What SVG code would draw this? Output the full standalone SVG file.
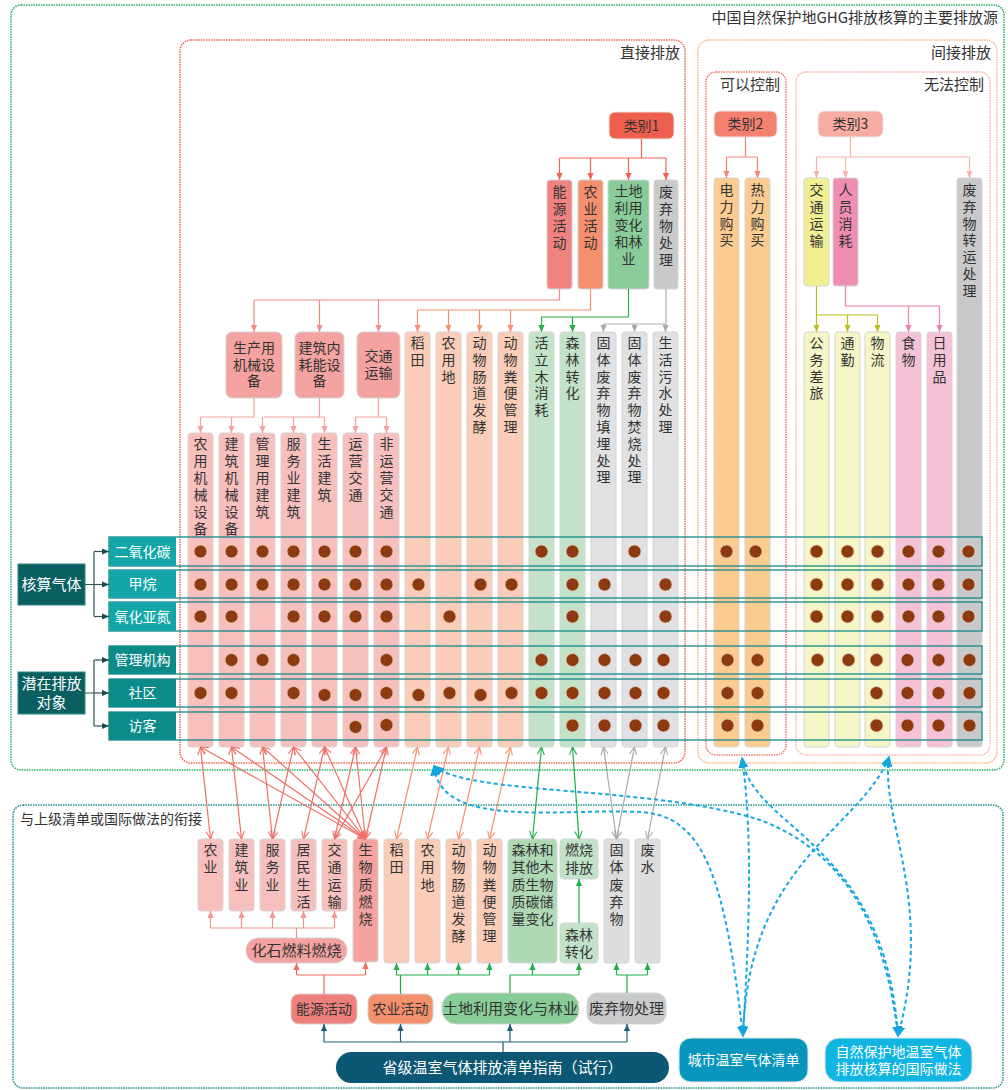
<svg xmlns="http://www.w3.org/2000/svg" width="1008" height="1090" viewBox="0 0 1008 1090">
<style>
.t{font-family:"Noto Sans CJK SC","Noto Sans",sans-serif;font-size:14px;fill:#333;text-anchor:middle}
.c{font-family:"Noto Sans CJK SC","Noto Sans",sans-serif;font-size:14px;fill:#333;writing-mode:vertical-rl;text-anchor:start}
.w{fill:#fff}
.h{font-size:15px;text-anchor:end}
.col{stroke:#d4d4d4;stroke-width:1}
.dot{fill:#8e3a10;stroke:#e6c6b6;stroke-width:0.8}
.fr{fill:none;stroke-width:1.5;stroke-dasharray:1.5 1}
.band{fill:none;stroke:#16878a;stroke-width:1.3}
.ln{fill:none;stroke-width:1.2}
.bl{fill:none;stroke:#14a8df;stroke-width:2;stroke-dasharray:4 3}
</style>
<defs>
<marker id="mR1" viewBox="0 0 8 8" refX="8" refY="4" markerWidth="7" markerHeight="7" markerUnits="userSpaceOnUse" orient="auto"><path d="M0,0.5L8,4L0,7.5z" fill="#ee6352"/></marker>
<marker id="mE" viewBox="0 0 8 8" refX="8" refY="4" markerWidth="7" markerHeight="7" markerUnits="userSpaceOnUse" orient="auto"><path d="M0,0.5L8,4L0,7.5z" fill="#f28a86"/></marker>
<marker id="mA" viewBox="0 0 8 8" refX="8" refY="4" markerWidth="7" markerHeight="7" markerUnits="userSpaceOnUse" orient="auto"><path d="M0,0.5L8,4L0,7.5z" fill="#f5906e"/></marker>
<marker id="mG" viewBox="0 0 8 8" refX="8" refY="4" markerWidth="7" markerHeight="7" markerUnits="userSpaceOnUse" orient="auto"><path d="M0,0.5L8,4L0,7.5z" fill="#1fae4a"/></marker>
<marker id="mK" viewBox="0 0 8 8" refX="8" refY="4" markerWidth="7" markerHeight="7" markerUnits="userSpaceOnUse" orient="auto"><path d="M0,0.5L8,4L0,7.5z" fill="#a9a9ad"/></marker>
<marker id="mP" viewBox="0 0 8 8" refX="8" refY="4" markerWidth="7" markerHeight="7" markerUnits="userSpaceOnUse" orient="auto"><path d="M0,0.5L8,4L0,7.5z" fill="#f4a09c"/></marker>
<marker id="mC2" viewBox="0 0 8 8" refX="8" refY="4" markerWidth="7" markerHeight="7" markerUnits="userSpaceOnUse" orient="auto"><path d="M0,0.5L8,4L0,7.5z" fill="#f4847a"/></marker>
<marker id="mC3" viewBox="0 0 8 8" refX="8" refY="4" markerWidth="7" markerHeight="7" markerUnits="userSpaceOnUse" orient="auto"><path d="M0,0.5L8,4L0,7.5z" fill="#f8b4aa"/></marker>
<marker id="mY" viewBox="0 0 8 8" refX="8" refY="4" markerWidth="7" markerHeight="7" markerUnits="userSpaceOnUse" orient="auto"><path d="M0,0.5L8,4L0,7.5z" fill="#bdbd1a"/></marker>
<marker id="mPk" viewBox="0 0 8 8" refX="8" refY="4" markerWidth="7" markerHeight="7" markerUnits="userSpaceOnUse" orient="auto"><path d="M0,0.5L8,4L0,7.5z" fill="#f07cb0"/></marker>
<marker id="mT" viewBox="0 0 8 8" refX="8" refY="4" markerWidth="7" markerHeight="7" markerUnits="userSpaceOnUse" orient="auto"><path d="M0,0.5L8,4L0,7.5z" fill="#1e4a4c"/></marker>
<marker id="mD" viewBox="0 0 8 8" refX="8" refY="4" markerWidth="7" markerHeight="7" markerUnits="userSpaceOnUse" orient="auto"><path d="M0,0.5L8,4L0,7.5z" fill="#1f5e78"/></marker>
<marker id="mF" viewBox="0 0 8 8" refX="8" refY="4" markerWidth="7" markerHeight="7" markerUnits="userSpaceOnUse" orient="auto"><path d="M0,0.5L8,4L0,7.5z" fill="#f29590"/></marker>
<marker id="mEn" viewBox="0 0 8 8" refX="8" refY="4" markerWidth="7" markerHeight="7" markerUnits="userSpaceOnUse" orient="auto"><path d="M0,0.5L8,4L0,7.5z" fill="#f06a5a"/></marker>
<marker id="mB" viewBox="0 0 8 8" refX="7" refY="4" markerWidth="11" markerHeight="11" markerUnits="userSpaceOnUse" orient="auto-start-reverse"><path d="M0,0.5L8,4L0,7.5z" fill="#12a6dc"/></marker>
<marker id="oR" viewBox="0 0 10 10" refX="9.5" refY="5" markerWidth="9" markerHeight="9" markerUnits="userSpaceOnUse" orient="auto-start-reverse"><path d="M1,1L9.5,5L1,9" fill="none" stroke="#f07068" stroke-width="1.2"/></marker>
<marker id="oA" viewBox="0 0 10 10" refX="9.5" refY="5" markerWidth="9" markerHeight="9" markerUnits="userSpaceOnUse" orient="auto-start-reverse"><path d="M1,1L9.5,5L1,9" fill="none" stroke="#f5906e" stroke-width="1.2"/></marker>
<marker id="oG" viewBox="0 0 10 10" refX="9.5" refY="5" markerWidth="9" markerHeight="9" markerUnits="userSpaceOnUse" orient="auto-start-reverse"><path d="M1,1L9.5,5L1,9" fill="none" stroke="#1fae4a" stroke-width="1.2"/></marker>
<marker id="oK" viewBox="0 0 10 10" refX="9.5" refY="5" markerWidth="9" markerHeight="9" markerUnits="userSpaceOnUse" orient="auto-start-reverse"><path d="M1,1L9.5,5L1,9" fill="none" stroke="#a9a9ad" stroke-width="1.2"/></marker>
</defs>
<rect width="1008" height="1090" fill="#fff"/>

<g id="frames">
<rect x="11" y="5" width="993" height="765" rx="10" class="fr" stroke="#22b060"/>
<rect x="180" y="40" width="505" height="723" rx="11" class="fr" stroke="#f06656"/>
<rect x="698" y="40" width="299" height="723" rx="11" class="fr" stroke="#f8b48a"/>
<rect x="706" y="72" width="80" height="683" rx="10" class="fr" stroke="#f07a6c"/>
<rect x="796" y="72" width="194" height="683" rx="10" class="fr" stroke="#f8b4aa"/>
<rect x="13" y="805" width="990" height="283" rx="10" class="fr" stroke="#1a9090"/>
<text class="t h" x="998" y="23">中国自然保护地GHG排放核算的主要排放源</text>
<text class="t h" x="680" y="58">直接排放</text>
<text class="t h" x="991" y="58">间接排放</text>
<text class="t h" x="780" y="90">可以控制</text>
<text class="t h" x="984" y="90">无法控制</text>
<text class="t" x="20" y="824" style="text-anchor:start">与上级清单或国际做法的衔接</text>
</g>

<g id="cat1"><rect x="609" y="112" width="65" height="27" rx="6" fill="#ee5f4d" stroke="#e8e8e8"/><text class="t" x="641.5" y="130.5">类别1</text></g>
<g id="cat2"><rect x="714" y="111" width="63" height="26" rx="6" fill="#f48070" stroke="#e8e8e8"/><text class="t" x="745.5" y="129">类别2</text></g>
<g id="cat3"><rect x="818" y="111" width="65" height="26" rx="6" fill="#f8ada2" stroke="#e8e8e8"/><text class="t" x="850.5" y="129">类别3</text></g>

<g id="n-energy"><rect x="547" y="180" width="25" height="109" rx="3" class="col" fill="#f08380"/><text class="c" x="559.5" y="185">能</text><text class="c" x="559.5" y="202">源</text><text class="c" x="559.5" y="219">活</text><text class="c" x="559.5" y="236">动</text></g>
<g id="n-agri"><rect x="578" y="180" width="25" height="109" rx="3" class="col" fill="#f5906e"/><text class="c" x="590.5" y="185">农</text><text class="c" x="590.5" y="202">业</text><text class="c" x="590.5" y="219">活</text><text class="c" x="590.5" y="236">动</text></g>
<g id="n-lulucf"><rect x="608" y="180" width="41" height="109" rx="3" class="col" fill="#89cc99"/><text class="t" x="628.5" y="196"><tspan x="628.5">土地</tspan><tspan x="628.5" dy="17">利用</tspan><tspan x="628.5" dy="17">变化</tspan><tspan x="628.5" dy="17">和林</tspan><tspan x="628.5" dy="17">业</tspan></text></g>
<g id="n-waste"><rect x="654" y="180" width="24" height="109" rx="3" class="col" fill="#c9cacc"/><text class="c" x="666" y="185">废</text><text class="c" x="666" y="202">弃</text><text class="c" x="666" y="219">物</text><text class="c" x="666" y="236">处</text><text class="c" x="666" y="253">理</text></g>
<g id="n-trans3"><rect x="804" y="178" width="25" height="108" rx="3" class="col" fill="#f1ef92"/><text class="c" x="816.5" y="183">交</text><text class="c" x="816.5" y="200">通</text><text class="c" x="816.5" y="217">运</text><text class="c" x="816.5" y="234">输</text></g>
<g id="n-consume"><rect x="833" y="178" width="25" height="108" rx="3" class="col" fill="#f08db2"/><text class="c" x="845.5" y="183">人</text><text class="c" x="845.5" y="200">员</text><text class="c" x="845.5" y="217">消</text><text class="c" x="845.5" y="234">耗</text></g>

<g id="n-machine"><rect x="226" y="332" width="56" height="66" rx="6" class="col" fill="#f5a3a0"/><text class="t" x="254" y="353"><tspan x="254">生产用</tspan><tspan x="254" dy="16.5">机械设</tspan><tspan x="254" dy="16.5">备</tspan></text></g>
<g id="n-building"><rect x="295" y="332" width="49" height="66" rx="6" class="col" fill="#f5a3a0"/><text class="t" x="319.5" y="353"><tspan x="319.5">建筑内</tspan><tspan x="319.5" dy="16.5">耗能设</tspan><tspan x="319.5" dy="16.5">备</tspan></text></g>
<g id="n-transport"><rect x="357" y="332" width="43" height="66" rx="6" class="col" fill="#f5a3a0"/><text class="t" x="378.5" y="361"><tspan x="378.5">交通</tspan><tspan x="378.5" dy="17">运输</tspan></text></g>

<g id="col0"><rect x="188" y="433" width="25" height="314" rx="3" class="col" fill="#f8c0bd"/><text class="c" x="200.5" y="437">农</text><text class="c" x="200.5" y="454">用</text><text class="c" x="200.5" y="471">机</text><text class="c" x="200.5" y="488">械</text><text class="c" x="200.5" y="505">设</text><text class="c" x="200.5" y="522">备</text></g>
<g id="col1"><rect x="219" y="433" width="25" height="314" rx="3" class="col" fill="#f8c0bd"/><text class="c" x="231.5" y="437">建</text><text class="c" x="231.5" y="454">筑</text><text class="c" x="231.5" y="471">机</text><text class="c" x="231.5" y="488">械</text><text class="c" x="231.5" y="505">设</text><text class="c" x="231.5" y="522">备</text></g>
<g id="col2"><rect x="250" y="433" width="25" height="314" rx="3" class="col" fill="#f8c0bd"/><text class="c" x="262.5" y="437">管</text><text class="c" x="262.5" y="454">理</text><text class="c" x="262.5" y="471">用</text><text class="c" x="262.5" y="488">建</text><text class="c" x="262.5" y="505">筑</text></g>
<g id="col3"><rect x="281" y="433" width="25" height="314" rx="3" class="col" fill="#f8c0bd"/><text class="c" x="293.5" y="437">服</text><text class="c" x="293.5" y="454">务</text><text class="c" x="293.5" y="471">业</text><text class="c" x="293.5" y="488">建</text><text class="c" x="293.5" y="505">筑</text></g>
<g id="col4"><rect x="312" y="433" width="25" height="314" rx="3" class="col" fill="#f8c0bd"/><text class="c" x="324.5" y="437">生</text><text class="c" x="324.5" y="454">活</text><text class="c" x="324.5" y="471">建</text><text class="c" x="324.5" y="488">筑</text></g>
<g id="col5"><rect x="343" y="433" width="25" height="314" rx="3" class="col" fill="#f8c0bd"/><text class="c" x="355.5" y="437">运</text><text class="c" x="355.5" y="454">营</text><text class="c" x="355.5" y="471">交</text><text class="c" x="355.5" y="488">通</text></g>
<g id="col6"><rect x="374" y="433" width="25" height="314" rx="3" class="col" fill="#f8c0bd"/><text class="c" x="386.5" y="437">非</text><text class="c" x="386.5" y="454">运</text><text class="c" x="386.5" y="471">营</text><text class="c" x="386.5" y="488">交</text><text class="c" x="386.5" y="505">通</text></g>
<g id="col7"><rect x="405" y="332" width="25" height="415" rx="3" class="col" fill="#fbcdb9"/><text class="c" x="417.5" y="336">稻</text><text class="c" x="417.5" y="353">田</text></g>
<g id="col8"><rect x="436" y="332" width="25" height="415" rx="3" class="col" fill="#fbcdb9"/><text class="c" x="448.5" y="336">农</text><text class="c" x="448.5" y="353">用</text><text class="c" x="448.5" y="370">地</text></g>
<g id="col9"><rect x="467" y="332" width="25" height="415" rx="3" class="col" fill="#fbcdb9"/><text class="c" x="479.5" y="336">动</text><text class="c" x="479.5" y="353">物</text><text class="c" x="479.5" y="370">肠</text><text class="c" x="479.5" y="386">道</text><text class="c" x="479.5" y="403">发</text><text class="c" x="479.5" y="420">酵</text></g>
<g id="col10"><rect x="498" y="332" width="25" height="415" rx="3" class="col" fill="#fbcdb9"/><text class="c" x="510.5" y="336">动</text><text class="c" x="510.5" y="353">物</text><text class="c" x="510.5" y="370">粪</text><text class="c" x="510.5" y="386">便</text><text class="c" x="510.5" y="403">管</text><text class="c" x="510.5" y="420">理</text></g>
<g id="col11"><rect x="529" y="332" width="25" height="415" rx="3" class="col" fill="#c3e3c8"/><text class="c" x="541.5" y="336">活</text><text class="c" x="541.5" y="353">立</text><text class="c" x="541.5" y="370">木</text><text class="c" x="541.5" y="386">消</text><text class="c" x="541.5" y="403">耗</text></g>
<g id="col12"><rect x="560" y="332" width="25" height="415" rx="3" class="col" fill="#c3e3c8"/><text class="c" x="572.5" y="336">森</text><text class="c" x="572.5" y="353">林</text><text class="c" x="572.5" y="370">转</text><text class="c" x="572.5" y="386">化</text></g>
<g id="col13"><rect x="591" y="332" width="25" height="415" rx="3" class="col" fill="#e0e1e3"/><text class="c" x="603.5" y="336">固</text><text class="c" x="603.5" y="353">体</text><text class="c" x="603.5" y="370">废</text><text class="c" x="603.5" y="386">弃</text><text class="c" x="603.5" y="403">物</text><text class="c" x="603.5" y="420">填</text><text class="c" x="603.5" y="437">埋</text><text class="c" x="603.5" y="454">处</text><text class="c" x="603.5" y="470">理</text></g>
<g id="col14"><rect x="622" y="332" width="25" height="415" rx="3" class="col" fill="#e0e1e3"/><text class="c" x="634.5" y="336">固</text><text class="c" x="634.5" y="353">体</text><text class="c" x="634.5" y="370">废</text><text class="c" x="634.5" y="386">弃</text><text class="c" x="634.5" y="403">物</text><text class="c" x="634.5" y="420">焚</text><text class="c" x="634.5" y="437">烧</text><text class="c" x="634.5" y="454">处</text><text class="c" x="634.5" y="470">理</text></g>
<g id="col15"><rect x="653" y="332" width="25" height="415" rx="3" class="col" fill="#e0e1e3"/><text class="c" x="665.5" y="336">生</text><text class="c" x="665.5" y="353">活</text><text class="c" x="665.5" y="370">污</text><text class="c" x="665.5" y="386">水</text><text class="c" x="665.5" y="403">处</text><text class="c" x="665.5" y="420">理</text></g>
<g id="col16"><rect x="714" y="178" width="25" height="569" rx="3" class="col" fill="#fbcb90"/><text class="c" x="726.5" y="183">电</text><text class="c" x="726.5" y="200">力</text><text class="c" x="726.5" y="217">购</text><text class="c" x="726.5" y="233">买</text></g>
<g id="col17"><rect x="745" y="178" width="25" height="569" rx="3" class="col" fill="#fbcb90"/><text class="c" x="757.5" y="183">热</text><text class="c" x="757.5" y="200">力</text><text class="c" x="757.5" y="217">购</text><text class="c" x="757.5" y="233">买</text></g>
<g id="col18"><rect x="804" y="332" width="25" height="415" rx="3" class="col" fill="#f6f5c5"/><text class="c" x="816.5" y="336">公</text><text class="c" x="816.5" y="353">务</text><text class="c" x="816.5" y="370">差</text><text class="c" x="816.5" y="386">旅</text></g>
<g id="col19"><rect x="835" y="332" width="25" height="415" rx="3" class="col" fill="#f6f5c5"/><text class="c" x="847.5" y="336">通</text><text class="c" x="847.5" y="353">勤</text></g>
<g id="col20"><rect x="865" y="332" width="25" height="415" rx="3" class="col" fill="#f6f5c5"/><text class="c" x="877.5" y="336">物</text><text class="c" x="877.5" y="353">流</text></g>
<g id="col21"><rect x="896" y="332" width="25" height="415" rx="3" class="col" fill="#f6c2d8"/><text class="c" x="908.5" y="336">食</text><text class="c" x="908.5" y="353">物</text></g>
<g id="col22"><rect x="927" y="332" width="25" height="415" rx="3" class="col" fill="#f6c2d8"/><text class="c" x="939.5" y="336">日</text><text class="c" x="939.5" y="353">用</text><text class="c" x="939.5" y="370">品</text></g>
<g id="col23"><rect x="957" y="178" width="25" height="569" rx="3" class="col" fill="#c8c9cb"/><text class="c" x="969.5" y="183">废</text><text class="c" x="969.5" y="200">弃</text><text class="c" x="969.5" y="217">物</text><text class="c" x="969.5" y="233">转</text><text class="c" x="969.5" y="250">运</text><text class="c" x="969.5" y="267">处</text><text class="c" x="969.5" y="284">理</text></g>

<g id="bands">
<rect x="109" y="537" width="873" height="29" class="band"/>
<rect x="109" y="570" width="873" height="28" class="band"/>
<rect x="109" y="602" width="873" height="29" class="band"/>
<rect x="109" y="646" width="873" height="28" class="band"/>
<rect x="109" y="679" width="873" height="28" class="band"/>
<rect x="109" y="712" width="873" height="28" class="band"/>
</g>

<g id="dots" class="dot">
<circle cx="200.5" cy="551.5" r="6.5"/><circle cx="231.5" cy="551.5" r="6.5"/><circle cx="262.5" cy="551.5" r="6.5"/><circle cx="293.5" cy="551.5" r="6.5"/><circle cx="324.5" cy="551.5" r="6.5"/><circle cx="355.5" cy="551.5" r="6.5"/><circle cx="386.5" cy="551.5" r="6.5"/><circle cx="541.5" cy="551.5" r="6.5"/><circle cx="572.5" cy="551.5" r="6.5"/><circle cx="634.5" cy="551.5" r="6.5"/><circle cx="726.5" cy="551.5" r="6.5"/><circle cx="755.5" cy="551.5" r="6.5"/><circle cx="816.5" cy="551.5" r="6.5"/><circle cx="847.5" cy="551.5" r="6.5"/><circle cx="877.5" cy="551.5" r="6.5"/><circle cx="908.5" cy="551.5" r="6.5"/><circle cx="938.5" cy="551.5" r="6.5"/><circle cx="968.5" cy="551.5" r="6.5"/>
<circle cx="200.5" cy="584.5" r="6.5"/><circle cx="231.5" cy="584.5" r="6.5"/><circle cx="262.5" cy="584.5" r="6.5"/><circle cx="293.5" cy="584.5" r="6.5"/><circle cx="324.5" cy="584.5" r="6.5"/><circle cx="355.5" cy="584.5" r="6.5"/><circle cx="386.5" cy="584.5" r="6.5"/><circle cx="418.5" cy="584.5" r="6.5"/><circle cx="480.5" cy="584.5" r="6.5"/><circle cx="511.5" cy="584.5" r="6.5"/><circle cx="572.5" cy="584.5" r="6.5"/><circle cx="604.5" cy="584.5" r="6.5"/><circle cx="665.5" cy="584.5" r="6.5"/><circle cx="816.5" cy="584.5" r="6.5"/><circle cx="847.5" cy="584.5" r="6.5"/><circle cx="877.5" cy="584.5" r="6.5"/><circle cx="908.5" cy="584.5" r="6.5"/><circle cx="938.5" cy="584.5" r="6.5"/><circle cx="968.5" cy="584.5" r="6.5"/>
<circle cx="200.5" cy="616.5" r="6.5"/><circle cx="231.5" cy="616.5" r="6.5"/><circle cx="293.5" cy="616.5" r="6.5"/><circle cx="324.5" cy="616.5" r="6.5"/><circle cx="355.5" cy="616.5" r="6.5"/><circle cx="386.5" cy="616.5" r="6.5"/><circle cx="449.5" cy="616.5" r="6.5"/><circle cx="572.5" cy="616.5" r="6.5"/><circle cx="665.5" cy="616.5" r="6.5"/><circle cx="816.5" cy="616.5" r="6.5"/><circle cx="847.5" cy="616.5" r="6.5"/><circle cx="877.5" cy="616.5" r="6.5"/><circle cx="908.5" cy="616.5" r="6.5"/><circle cx="938.5" cy="616.5" r="6.5"/><circle cx="968.5" cy="616.5" r="6.5"/>
<circle cx="231.5" cy="660" r="6.5"/><circle cx="262.5" cy="660" r="6.5"/><circle cx="293.5" cy="660" r="6.5"/><circle cx="386.5" cy="660" r="6.5"/><circle cx="541.5" cy="660" r="6.5"/><circle cx="572.5" cy="660" r="6.5"/><circle cx="604.5" cy="660" r="6.5"/><circle cx="635.5" cy="660" r="6.5"/><circle cx="663.5" cy="660" r="6.5"/><circle cx="727.5" cy="660" r="6.5"/><circle cx="757.5" cy="660" r="6.5"/><circle cx="817.5" cy="660" r="6.5"/><circle cx="848.5" cy="660" r="6.5"/><circle cx="876.5" cy="660" r="6.5"/><circle cx="907.5" cy="660" r="6.5"/><circle cx="938.5" cy="660" r="6.5"/><circle cx="969.5" cy="660" r="6.5"/>
<circle cx="200.5" cy="693" r="6.5"/><circle cx="231.5" cy="693" r="6.5"/><circle cx="293.5" cy="693" r="6.5"/><circle cx="324.5" cy="695" r="6.5"/><circle cx="355.5" cy="695" r="6.5"/><circle cx="386.5" cy="693" r="6.5"/><circle cx="418.5" cy="695" r="6.5"/><circle cx="449.5" cy="693" r="6.5"/><circle cx="480.5" cy="695" r="6.5"/><circle cx="511.5" cy="693" r="6.5"/><circle cx="541.5" cy="693" r="6.5"/><circle cx="572.5" cy="693" r="6.5"/><circle cx="604.5" cy="693" r="6.5"/><circle cx="635.5" cy="693" r="6.5"/><circle cx="663.5" cy="693" r="6.5"/><circle cx="727.5" cy="693" r="6.5"/><circle cx="757.5" cy="693" r="6.5"/><circle cx="876.5" cy="693" r="6.5"/><circle cx="907.5" cy="693" r="6.5"/><circle cx="938.5" cy="693" r="6.5"/><circle cx="969.5" cy="693" r="6.5"/>
<circle cx="355.5" cy="727" r="6.5"/><circle cx="386.5" cy="725" r="6.5"/><circle cx="572.5" cy="725.5" r="6.5"/><circle cx="604.5" cy="725.5" r="6.5"/><circle cx="635.5" cy="725.5" r="6.5"/><circle cx="663.5" cy="725.5" r="6.5"/><circle cx="727.5" cy="725.5" r="6.5"/><circle cx="757.5" cy="725.5" r="6.5"/><circle cx="876.5" cy="725.5" r="6.5"/><circle cx="907.5" cy="725.5" r="6.5"/><circle cx="938.5" cy="725.5" r="6.5"/><circle cx="969.5" cy="725.5" r="6.5"/>
</g>

<g id="r-co2"><rect x="109" y="537" width="67" height="29" fill="#12a6a9"/><text class="t w" x="142.5" y="556.5">二氧化碳</text></g>
<g id="r-ch4"><rect x="109" y="570" width="67" height="28" fill="#12a6a9"/><text class="t w" x="142.5" y="589">甲烷</text></g>
<g id="r-n2o"><rect x="109" y="602" width="67" height="29" fill="#12a6a9"/><text class="t w" x="142.5" y="621.5">氧化亚氮</text></g>
<g id="r-admin"><rect x="109" y="646" width="67" height="28" fill="#0d8b8b"/><text class="t w" x="142.5" y="665">管理机构</text></g>
<g id="r-comm"><rect x="109" y="679" width="67" height="28" fill="#0d8b8b"/><text class="t w" x="142.5" y="698">社区</text></g>
<g id="r-visit"><rect x="109" y="712" width="67" height="28" fill="#0d8b8b"/><text class="t w" x="142.5" y="731">访客</text></g>
<g id="g-gas"><rect x="18" y="564" width="67" height="41" fill="#0b5f60" stroke="#2a8a8a"/><text class="t w" x="51.5" y="589.5" style="font-size:15px">核算气体</text></g>
<g id="g-obj"><rect x="18" y="672" width="67" height="42" fill="#0b5f60" stroke="#2a8a8a"/><text class="t w" x="51.5" y="689" style="font-size:15px"><tspan x="51.5">潜在排放</tspan><tspan x="51.5" dy="19">对象</tspan></text></g>

<g id="b-agri"><rect x="198" y="839" width="25" height="72" rx="3" class="col" fill="#f8c0bd"/><text class="c" x="210.5" y="843">农</text><text class="c" x="210.5" y="860">业</text></g>
<g id="b-constr"><rect x="229" y="839" width="25" height="72" rx="3" class="col" fill="#f8c0bd"/><text class="c" x="241.5" y="843">建</text><text class="c" x="241.5" y="860">筑</text><text class="c" x="241.5" y="878">业</text></g>
<g id="b-serv"><rect x="260" y="839" width="25" height="72" rx="3" class="col" fill="#f8c0bd"/><text class="c" x="272.5" y="843">服</text><text class="c" x="272.5" y="860">务</text><text class="c" x="272.5" y="878">业</text></g>
<g id="b-resid"><rect x="291" y="839" width="25" height="72" rx="3" class="col" fill="#f8c0bd"/><text class="c" x="303.5" y="843">居</text><text class="c" x="303.5" y="860">民</text><text class="c" x="303.5" y="878">生</text><text class="c" x="303.5" y="895">活</text></g>
<g id="b-trans"><rect x="322" y="839" width="25" height="72" rx="3" class="col" fill="#f8c0bd"/><text class="c" x="334.5" y="843">交</text><text class="c" x="334.5" y="860">通</text><text class="c" x="334.5" y="878">运</text><text class="c" x="334.5" y="895">输</text></g>
<g id="b-bio"><rect x="353" y="839" width="25" height="123" rx="3" class="col" fill="#f5a3a0"/><text class="c" x="365.5" y="843">生</text><text class="c" x="365.5" y="860">物</text><text class="c" x="365.5" y="878">质</text><text class="c" x="365.5" y="895">燃</text><text class="c" x="365.5" y="912">烧</text></g>
<g id="b-rice"><rect x="384" y="839" width="25" height="124" rx="3" class="col" fill="#fbcdb9"/><text class="c" x="396.5" y="843">稻</text><text class="c" x="396.5" y="860">田</text></g>
<g id="b-land"><rect x="415" y="839" width="25" height="124" rx="3" class="col" fill="#fbcdb9"/><text class="c" x="427.5" y="843">农</text><text class="c" x="427.5" y="860">用</text><text class="c" x="427.5" y="878">地</text></g>
<g id="b-enteric"><rect x="446" y="839" width="25" height="124" rx="3" class="col" fill="#fbcdb9"/><text class="c" x="458.5" y="843">动</text><text class="c" x="458.5" y="860">物</text><text class="c" x="458.5" y="878">肠</text><text class="c" x="458.5" y="895">道</text><text class="c" x="458.5" y="912">发</text><text class="c" x="458.5" y="929">酵</text></g>
<g id="b-manure"><rect x="477" y="839" width="25" height="124" rx="3" class="col" fill="#fbcdb9"/><text class="c" x="489.5" y="843">动</text><text class="c" x="489.5" y="860">物</text><text class="c" x="489.5" y="878">粪</text><text class="c" x="489.5" y="895">便</text><text class="c" x="489.5" y="912">管</text><text class="c" x="489.5" y="929">理</text></g>
<g id="b-forest"><rect x="508" y="839" width="49" height="124" rx="4" class="col" fill="#afd9b5"/><text class="t" x="532.5" y="855"><tspan x="532.5">森林和</tspan><tspan x="532.5" dy="17.3">其他木</tspan><tspan x="532.5" dy="17.3">质生物</tspan><tspan x="532.5" dy="17.3">质碳储</tspan><tspan x="532.5" dy="17.3">量变化</tspan></text></g>
<g id="b-burn"><rect x="560" y="839" width="38" height="40" rx="4" class="col" fill="#c3e3c8"/><text class="t" x="579" y="855"><tspan x="579">燃烧</tspan><tspan x="579" dy="17.5">排放</tspan></text></g>
<g id="b-conv"><rect x="560" y="923" width="38" height="40" rx="4" class="col" fill="#c3e3c8"/><text class="t" x="579" y="940"><tspan x="579">森林</tspan><tspan x="579" dy="17">转化</tspan></text></g>
<g id="b-solid"><rect x="604" y="839" width="25" height="124" rx="3" class="col" fill="#dcdddf"/><text class="c" x="616.5" y="843">固</text><text class="c" x="616.5" y="860">体</text><text class="c" x="616.5" y="878">废</text><text class="c" x="616.5" y="895">弃</text><text class="c" x="616.5" y="912">物</text></g>
<g id="b-water"><rect x="635" y="839" width="25" height="124" rx="3" class="col" fill="#dcdddf"/><text class="c" x="647.5" y="843">废</text><text class="c" x="647.5" y="860">水</text></g>
<g id="b-fossil"><rect x="246" y="938" width="101" height="25" rx="12" class="col" fill="#f5a3a0"/><text class="t" x="296.5" y="955.5" style="font-size:15px">化石燃料燃烧</text></g>
<g id="b-energy"><rect x="291" y="994" width="66" height="30" rx="8" class="col" fill="#ef7f7b"/><text class="t" x="324" y="1014">能源活动</text></g>
<g id="b-agriact"><rect x="368" y="994" width="65" height="30" rx="8" class="col" fill="#f4906c"/><text class="t" x="400.5" y="1014">农业活动</text></g>
<g id="b-lulucf"><rect x="442" y="993" width="137" height="31" rx="14" class="col" fill="#88cc98"/><text class="t" x="510.5" y="1014" style="font-size:15px">土地利用变化与林业</text></g>
<g id="b-wasteact"><rect x="587" y="993" width="79" height="31" rx="10" class="col" fill="#c9cacc"/><text class="t" x="626.5" y="1014" style="font-size:15px">废弃物处理</text></g>
<g id="b-guide"><rect x="336" y="1052" width="333" height="31" rx="15.5" fill="#0c5773"/><text class="t w" x="502.5" y="1073" style="font-size:15px">省级温室气体排放清单指南（试行）</text></g>
<g id="b-city"><rect x="679" y="1038" width="129" height="44" rx="12" fill="#0996bd" stroke="#dfe9ee"/><text class="t w" x="743.5" y="1065">城市温室气体清单</text></g>
<g id="b-intl"><rect x="825" y="1038" width="147" height="44" rx="14" fill="#10b5e2" stroke="#dfe9ee"/><text class="t w" x="898.5" y="1057"><tspan x="898.5">自然保护地温室气体</tspan><tspan x="898.5" dy="17">排放核算的国际做法</tspan></text></g>

<g id="connectors">
<g class="ln" stroke="#ee6352"><path d="M641.5,139V158M559.5,158H666"/><path d="M559.5,158V180" marker-end="url(#mR1)"/><path d="M590.5,158V180" marker-end="url(#mR1)"/><path d="M628.5,158V180" marker-end="url(#mR1)"/><path d="M666,158V180" marker-end="url(#mR1)"/></g>
<g class="ln" stroke="#f4847a"><path d="M745.5,137V157M726.5,157H757.5"/><path d="M726.5,157V178" marker-end="url(#mC2)"/><path d="M757.5,157V178" marker-end="url(#mC2)"/></g>
<g class="ln" stroke="#f8b4aa"><path d="M850.5,137V157M816.5,157H969.5"/><path d="M816.5,157V178" marker-end="url(#mC3)"/><path d="M845.5,157V178" marker-end="url(#mC3)"/><path d="M969.5,157V178" marker-end="url(#mC3)"/></g>
<g class="ln" stroke="#f28a86"><path d="M559.5,289V300H254"/><path d="M254,300V332" marker-end="url(#mE)"/><path d="M319.5,300V332" marker-end="url(#mE)"/><path d="M378.5,300V332" marker-end="url(#mE)"/></g>
<g class="ln" stroke="#f5906e"><path d="M590.5,289V310H417.5"/><path d="M417.5,310V332" marker-end="url(#mA)"/><path d="M448.5,310V332" marker-end="url(#mA)"/><path d="M479.5,310V332" marker-end="url(#mA)"/><path d="M510.5,310V332" marker-end="url(#mA)"/></g>
<g class="ln" stroke="#1fae4a"><path d="M628.5,289V317H541.5"/><path d="M541.5,317V332" marker-end="url(#mG)"/><path d="M572.5,317V332" marker-end="url(#mG)"/></g>
<g class="ln" stroke="#b0b0b4"><path d="M666,289V324H603.5"/><path d="M603.5,324V332" marker-end="url(#mK)"/><path d="M634.5,324V332" marker-end="url(#mK)"/><path d="M665.5,324V332" marker-end="url(#mK)"/></g>
<g class="ln" stroke="#f4a09c"><path d="M254,398V417H200.5M264,417H324.5M319.5,398V417M378.5,398V417M355.5,417H386.5"/><path d="M200.5,417V433" marker-end="url(#mP)"/><path d="M231.5,417V433" marker-end="url(#mP)"/><path d="M262.5,417V433" marker-end="url(#mP)"/><path d="M293.5,417V433" marker-end="url(#mP)"/><path d="M324.5,417V433" marker-end="url(#mP)"/><path d="M355.5,417V433" marker-end="url(#mP)"/><path d="M386.5,417V433" marker-end="url(#mP)"/></g>
<g class="ln" stroke="#bdbd1a"><path d="M816.5,286V315H877.5"/><path d="M816.5,315V332" marker-end="url(#mY)"/><path d="M847.5,315V332" marker-end="url(#mY)"/><path d="M877.5,315V332" marker-end="url(#mY)"/></g>
<g class="ln" stroke="#f07cb0"><path d="M845.5,286V306H939.5"/><path d="M908.5,306V332" marker-end="url(#mPk)"/><path d="M939.5,306V332" marker-end="url(#mPk)"/></g>
<g class="ln" stroke="#2f5252"><path d="M85,584.5H94M94,551.5V616.5M85,693H94M94,660V726"/><path d="M94,551.5H109" marker-end="url(#mT)"/><path d="M94,584.5H109" marker-end="url(#mT)"/><path d="M94,616.5H109" marker-end="url(#mT)"/><path d="M94,660H109" marker-end="url(#mT)"/><path d="M94,693H109" marker-end="url(#mT)"/><path d="M94,726H109" marker-end="url(#mT)"/></g>

<g class="ln" stroke="#f07068" stroke-width="1" marker-start="url(#oR)" marker-end="url(#oR)">
<path d="M200.5,747L210.5,839"/><path d="M200.5,747L365.5,839"/>
<path d="M231.5,747L241.5,839"/><path d="M231.5,747L365.5,839"/>
<path d="M262.5,747L272.5,839"/><path d="M262.5,747L365.5,839"/>
<path d="M293.5,747L272.5,839"/><path d="M293.5,747L365.5,839"/>
<path d="M324.5,747L303.5,839"/><path d="M324.5,747L365.5,839"/>
<path d="M355.5,747L334.5,839"/><path d="M355.5,747L365.5,839"/>
<path d="M386.5,747L334.5,839"/><path d="M386.5,747L365.5,839"/>
</g>
<g class="ln" stroke="#f5906e" stroke-width="1" marker-start="url(#oA)" marker-end="url(#oA)">
<path d="M417.5,747L396.5,839"/><path d="M448.5,747L427.5,839"/><path d="M479.5,747L458.5,839"/><path d="M510.5,747L489.5,839"/>
</g>
<g class="ln" stroke="#1fae4a" stroke-width="1" marker-start="url(#oG)" marker-end="url(#oG)">
<path d="M541.5,747L532.5,839"/><path d="M572.5,747L579,839"/>
</g>
<g class="ln" stroke="#a9a9ad" stroke-width="1" marker-start="url(#oK)" marker-end="url(#oK)">
<path d="M603.5,747L616.5,839"/><path d="M634.5,747L616.5,839"/><path d="M665.5,747L647.5,839"/>
</g>

<g class="ln" stroke="#f29590"><path d="M296.5,938V928M210.5,928H334.5"/><path d="M210.5,928V911" marker-end="url(#mF)"/><path d="M241.5,928V911" marker-end="url(#mF)"/><path d="M272.5,928V911" marker-end="url(#mF)"/><path d="M303.5,928V911" marker-end="url(#mF)"/><path d="M334.5,928V911" marker-end="url(#mF)"/></g>
<g class="ln" stroke="#f06a5a"><path d="M324,994V975M296.5,975H365.5"/><path d="M296.5,975V963" marker-end="url(#mEn)"/><path d="M365.5,975V962" marker-end="url(#mEn)"/></g>
<g class="ln" stroke="#1fae4a"><path d="M400.5,994V975M396.5,975H489.5"/><path d="M396.5,975V963" marker-end="url(#mG)"/><path d="M427.5,975V963" marker-end="url(#mG)"/><path d="M458.5,975V963" marker-end="url(#mG)"/><path d="M489.5,975V963" marker-end="url(#mG)"/>
<path d="M510,993V975H579"/><path d="M532.5,975V963" marker-end="url(#mG)"/><path d="M579,975V963" marker-end="url(#mG)"/>
<path d="M627,993V975M616.5,975H647.5"/><path d="M616.5,975V963" marker-end="url(#mG)"/><path d="M647.5,975V963" marker-end="url(#mG)"/>
<path d="M579,923V879" marker-end="url(#mG)"/></g>
<g class="ln" stroke="#1f5e78"><path d="M503,1052V1042M324,1042H627"/><path d="M324,1042V1024" marker-end="url(#mD)"/><path d="M400.5,1042V1024" marker-end="url(#mD)"/><path d="M510,1042V1024" marker-end="url(#mD)"/><path d="M627,1042V1024" marker-end="url(#mD)"/></g>

<g marker-start="url(#mB)" marker-end="url(#mB)">
<path class="bl" d="M742,758C754,840 748,950 743,1036"/>
<path class="bl" d="M742,758C752,830 885,840 898,1036"/>
<path class="bl" d="M889,757C860,830 748,860 743,1036"/>
<path class="bl" d="M889,757C880,820 935,900 898,1036"/>
<path class="bl" d="M434,766C470,796 650,785 760,820C840,850 885,920 898,1036"/>
<path class="bl" d="M434,766C440,830 560,808 640,812C705,815 725,880 743,1036"/>
</g>
</g>
</svg>
